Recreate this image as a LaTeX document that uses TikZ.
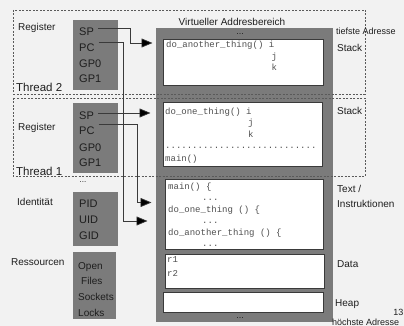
\documentclass[tikz,border=0pt]{standalone}
\usepackage{fontspec}
\setmainfont{Liberation Sans}
\newfontfamily\codefont{Liberation Mono}
\usetikzlibrary{arrows.meta}
\definecolor{bg}{HTML}{F2F2F2}
\definecolor{boxgray}{HTML}{7B7B7B}
\definecolor{labelc}{HTML}{1E1E1E}
\definecolor{codec}{HTML}{505050}
\definecolor{edgec}{HTML}{3A3A3A}
\definecolor{dashc}{HTML}{5A5A5A}
\tikzset{
  graybox/.style={fill=boxgray, draw=none},
  membox/.style={fill=white, draw=edgec, line width=0.6pt},
  thread/.style={draw=dashc, line width=0.5pt, dash pattern=on 2pt off 1.5pt},
  lbl/.style={anchor=base west, inner sep=0pt, text=labelc, font=\fontsize{10}{12}\selectfont},
  big/.style={lbl, font=\fontsize{11.5}{13}\selectfont},
  reg/.style={lbl, font=\fontsize{11}{13}\selectfont},
  small/.style={lbl, font=\fontsize{9}{11}\selectfont},
  ellip/.style={lbl, anchor=base, font=\fontsize{9}{10}\selectfont, text height=1.5pt, text depth=0pt},
  code/.style={anchor=base west, inner sep=0pt, text=codec, font=\codefont\fontsize{9}{11}\selectfont},
  ptr/.style={draw=edgec, line width=0.7pt, -{Triangle[length=11pt,width=9pt,fill=black]}},
}
\begin{document}
\begin{tikzpicture}[x=1pt,y=-1pt]
\fill[bg] (0,0) rectangle (404,326);
\useasboundingbox (0,0) rectangle (404,326);

% address space
\fill[boxgray] (156,28) rectangle (333,322);
\node[membox, minimum width=160pt, minimum height=46pt, anchor=north west, inner sep=0pt] (stack2) at (163,39) {};
\node[membox, minimum width=159pt, minimum height=64pt, anchor=north west, inner sep=0pt] (stack1) at (163,102) {};
\node[membox, minimum width=158pt, minimum height=70pt, anchor=north west, inner sep=0pt] (textseg) at (165,179) {};
\node[membox, minimum width=159pt, minimum height=34pt, anchor=north west, inner sep=0pt] (dataseg) at (165,254) {};
\node[membox, minimum width=160pt, minimum height=20pt, anchor=north west, inner sep=0pt] (heapseg) at (163,292) {};

% register boxes
\fill[boxgray] (73,20) rectangle (118,90);
\fill[boxgray] (73,103) rectangle (118,173);
\fill[boxgray] (73,192) rectangle (118,246);
\fill[boxgray] (73,252) rectangle (116,319);

% thread frames
\draw[thread] (13,10) rectangle (365,94);
\draw[thread] (13,98) rectangle (365,176);

% left labels
\node[lbl] (reg2) at (18,31) {Register};
\node[big] (th2) at (16,91.5) {Thread 2};
\node[lbl] (reg1) at (18,131) {Register};
\node[big] (th1) at (16,175.5) {Thread 1};
\node[ellip, font=\fontsize{8}{9}\selectfont] (dots1) at (83,96) {...};
\node[ellip, font=\fontsize{8}{9}\selectfont] (dots2) at (83,182) {...};
\node[lbl] (ident) at (17,205) {Identität};
\node[lbl] (ress) at (11,265) {Ressourcen};

% register contents
\node[reg] (sp2) at (79,36) {SP};
\node[reg] (pc2) at (79,52) {PC};
\node[reg] (gpa2) at (79,67.5) {GP0};
\node[reg] (gpb2) at (79,83) {GP1};
\node[reg] (sp1) at (79,120) {SP};
\node[reg] (pc1) at (79,135) {PC};
\node[reg] (gpa1) at (79,151) {GP0};
\node[reg] (gpb1) at (79,166) {GP1};
\node[reg] (pid) at (79,207) {PID};
\node[reg] (uid) at (79,223) {UID};
\node[reg] (gid) at (79,239) {GID};
\node[lbl] (open) at (78,269) {Open};
\node[lbl] (files) at (81,284.5) {Files};
\node[lbl] (sock) at (78,300) {Sockets};
\node[lbl] (locks) at (78,316) {Locks};

% right labels
\node[lbl, anchor=base] (vab) at (232,25.5) {Virtueller Addresbereich};
\node[ellip] (topdots) at (240,35) {...};
\node[ellip] (botdots) at (240,318) {...};
\node[small] (tief) at (336,35) {tiefste Adresse};
\node[lbl] (lst2) at (337,52) {Stack};
\node[lbl] (lst1) at (337,115) {Stack};
\node[lbl] (ltext) at (337,192) {Text /};
\node[lbl] (linst) at (337,207.5) {Instruktionen};
\node[lbl] (ldata) at (337,267) {Data};
\node[lbl] (lheap) at (335,306) {Heap};
\node[small, anchor=base east] (pnum) at (403.5,315) {13};
\node[small] (hoch) at (332,325) {höchste Adresse};

% code
\node[code] (c1) at (166,48) {do\_another\_thing() i};
\node[code] (c2) at (271.5,59.5) {j};
\node[code] (c3) at (271.5,71) {k};
\node[code] (c4) at (165,114) {do\_one\_thing() i};
\node[code] (c5) at (248,125.5) {j};
\node[code] (c6) at (248,137) {k};
\node[code] (c7) at (165,148) {............................};
\node[code] (c8) at (165,161) {main()};
\node[code] (t1) at (168,189) {main() \{};
\node[code] (t2) at (202,200) {...};
\node[code] (t3) at (168,212) {do\_one\_thing () \{};
\node[code] (t4) at (202,223) {...};
\node[code] (t5) at (168,235) {do\_another\_thing () \{};
\node[code] (t6) at (202,246) {...};
\node[code] (d1) at (167,262) {r1};
\node[code] (d2) at (167,276) {r2};

% pointer targets
\coordinate (a1) at (152.5,43);
\coordinate (a2) at (147.5,221);
\coordinate (a3) at (150.5,113);
\coordinate (a4) at (151.5,202.5);

% pointers
\draw[ptr] ([xshift=4pt,yshift=7.5pt]sp2.base east) -| (130,43) -- (a1);
\draw[ptr] ([xshift=4pt,yshift=10pt]pc2.base east) -| (123,221) -- (a2);
\draw[ptr] ([xshift=4pt,yshift=7pt]sp1.base east) -- (a3);
\draw[ptr] ([xshift=4pt,yshift=11pt]pc1.base east) -| (137,202.5) -- (a4);
\end{tikzpicture}
\end{document}
